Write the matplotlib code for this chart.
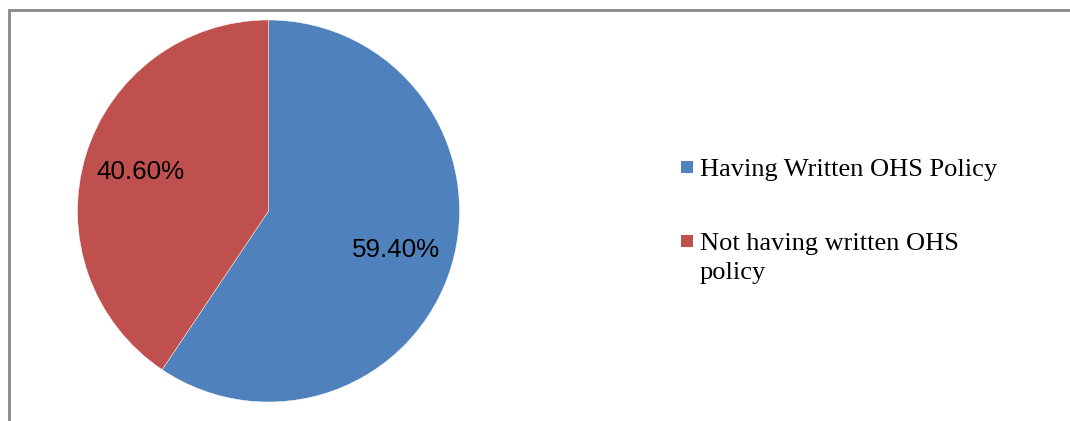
import matplotlib
matplotlib.use("Agg")
import matplotlib.pyplot as plt
from matplotlib.lines import Line2D
from matplotlib.patches import Rectangle

labels = ["Having Written OHS Policy", "Not having written OHS\npolicy"]
shares = [59.4, 40.6]
colors = ["#4F81BD", "#C0504D"]

W, H = 1070, 421
fig = plt.figure(figsize=(W / 100, H / 100), dpi=100)
fig.patch.set_facecolor("white")

# pie axes: centre (268.5, 211) px, radius 191 px
cx, cy, r = 268.5, 211, 191
ax = fig.add_axes([(cx - r) / W, (H - cy - r) / H, 2 * r / W, 2 * r / H])
wedges, _, autotexts = ax.pie(
    shares, colors=colors, startangle=90, counterclock=False,
    autopct="%.2f%%", pctdistance=0.7, radius=1,
    wedgeprops=dict(edgecolor="white", linewidth=0.3),
    textprops=dict(fontsize=18.7, family="Liberation Sans", color="black"),
)
ax.set_xlim(-1, 1)
ax.set_ylim(-1, 1)
ax.set_aspect("equal")
ax.axis("off")

# chart frame: top and left edges only
frame = dict(color="#878787", lw=2, solid_capstyle="butt", transform=fig.transFigure)
fig.add_artist(Line2D([8 / W, 1], [1 - 9.5 / H, 1 - 9.5 / H], **frame))
fig.add_artist(Line2D([8.5 / W, 8.5 / W], [0, 1 - 9 / H], **frame))

# legend drawn by hand
entries = [(167, 174), (241, 248)]  # (square centre y, first text line top offset)
for (sy, ty), lab, col in zip(entries, labels, colors):
    fig.add_artist(Rectangle((681 / W, 1 - (sy + 6) / H), 12 / W, 12 / H,
                             facecolor=col, edgecolor="none", transform=fig.transFigure))
    fig.text(700 / W, 1 - (ty - 15) / H, lab, fontsize=19, family="Liberation Serif",
             ha="left", va="top", linespacing=1.42)

fig.savefig("out.png", dpi=100)
